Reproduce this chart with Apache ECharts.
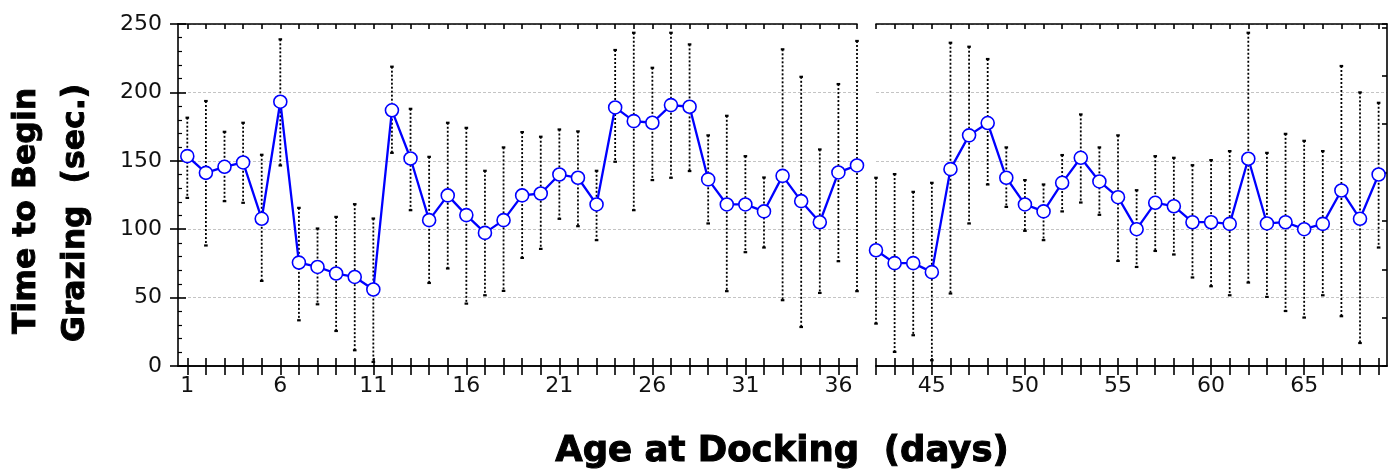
<!DOCTYPE html>
<html>
<head>
<meta charset="utf-8">
<script src="https://cdn.jsdelivr.net/npm/echarts@6/dist/echarts.min.js"></script>
<style>
html,body{margin:0;padding:0;background:#fff;}
#chart{width:1394px;height:471px;}
</style>
</head>
<body>
<div id="chart"></div>
<script>
// ---- Data ----
const leftDays = [1,2,3,4,5,6,7,8,9,10,11,12,13,14,15,16,17,18,19,20,21,22,23,24,25,26,27,28,29,30,31,32,33,34,35,36,37];
const leftMean = [153.4,141.2,145.6,148.8,107.6,193.2,75.6,72.4,67.6,65.1,55.9,186.9,151.7,106.6,124.7,110.3,97.3,106.6,124.7,126.1,140.0,137.6,118.1,189.0,179.0,177.8,190.7,189.5,136.4,118.1,118.1,113.0,139.0,120.5,105.1,141.5,146.6];
const leftHigh = [181.5,193.7,171.2,177.8,154.4,238.8,115.6,100.5,109.0,118.3,107.8,218.8,188.0,152.9,177.8,174.1,142.7,159.8,171.0,167.6,172.9,171.5,142.7,231.0,243.6,218.0,243.6,235.1,168.6,182.9,153.4,137.8,231.5,211.4,158.3,206.1,237.6];
const leftLow  = [122.9,88.1,120.5,119.3,62.2,146.6,33.4,45.1,25.6,11.5,3.0,155.8,113.9,60.7,71.3,45.6,51.7,54.9,79.0,85.6,107.6,102.2,92.0,149.3,113.9,135.9,137.6,142.5,104.2,54.7,83.2,86.6,48.1,28.5,53.4,76.6,54.7];

const rightDays = [42,43,44,45,46,47,48,49,50,51,52,53,54,55,56,57,58,59,60,61,62,63,64,65,66,67,68,69];
const rightMean = [84.6,75.2,75.2,68.6,143.9,168.6,177.6,137.6,118.1,113.0,133.9,152.2,134.9,123.4,100.0,119.3,116.8,105.1,105.1,103.9,151.5,104.2,105.1,100.0,103.9,128.3,107.6,140.0];
const rightHigh = [137.6,140.3,127.3,133.9,236.3,233.4,224.4,159.8,135.9,132.7,154.2,183.9,159.8,168.6,128.5,153.4,152.2,146.8,150.5,157.1,243.6,155.8,169.7,164.6,157.1,219.3,200.0,192.4];
const rightLow  = [31.0,10.3,22.5,4.2,53.0,104.2,132.7,116.3,98.8,92.0,113.0,119.5,110.5,76.8,72.4,84.1,81.5,64.7,58.3,51.7,61.0,50.5,40.2,35.4,51.7,36.4,16.8,86.6];

const leftTickLabels = [1,6,11,16,21,26,31,36];
const rightTickLabels = [45,50,55,60,65];
const yTitleLine1 = 'Time to Begin';
const yTitleLine2 = 'Grazing  (sec.)';
const xTitle = 'Age at Docking  (days)';

// ---- Build ----
const chart = echarts.init(document.getElementById('chart'), null, {renderer:'canvas'});
const tickFont = '"DejaVu Sans", "Liberation Sans", sans-serif';
const titleFont = '"DejaVu Sans", sans-serif';
const black = '#000';

function zip3(a,b,c){ return a.map((v,i)=>[v,b[i],c[i]]); }
function zip2(a,b){ return a.map((v,i)=>[v,b[i]]); }

function errRender(params, api){
  const x = api.value(0), lo = api.value(1), hi = api.value(2);
  const pH = api.coord([x, hi]);
  const pL = api.coord([x, lo]);
  const cap = 1.8;
  return {type:'group', children:[
    {type:'line', shape:{x1:pH[0], y1:pH[1], x2:pL[0], y2:pL[1]},
     style:{stroke:black, lineWidth:1.8, lineDash:[2,2]}},
    {type:'line', shape:{x1:pH[0]-cap, y1:pH[1], x2:pH[0]+cap, y2:pH[1]},
     style:{stroke:black, lineWidth:2.2}},
    {type:'line', shape:{x1:pL[0]-cap, y1:pL[1], x2:pL[0]+cap, y2:pL[1]},
     style:{stroke:black, lineWidth:2.2}}
  ]};
}

const axisLineStyle = {color:black, width:1.6};
function xBottom(grid, min, max, ticks, labels){
  return {type:'value', gridIndex:grid, position:'bottom', min:min, max:max,
    axisLine:{show:true, onZero:false, lineStyle:axisLineStyle},
    axisTick:{show:true, inside:false, length:9, customValues:ticks, lineStyle:{color:black, width:1.6}},
    axisLabel:{show:true, customValues:labels, margin:9, fontFamily:tickFont, fontSize:22, color:'#111'},
    splitLine:{show:false}};
}
function xInside(grid, min, max, ticks, pos, len){
  return {type:'value', gridIndex:grid, position:pos, min:min, max:max,
    axisLine:{show:true, onZero:false, lineStyle:axisLineStyle},
    axisTick:{show:true, inside:true, length:len, customValues:ticks, lineStyle:{color:black, width:1.6}},
    axisLabel:{show:false}, splitLine:{show:false}};
}

const gridLine = {show:true, lineStyle:{color:'#c4c4c4', type:[3,2], width:1}};

const option = {
  animation:false,
  backgroundColor:'#fff',
  grid:[
    {left:178, right:537, top:24, bottom:105, containLabel:false},
    {left:876, right:7, top:24, bottom:105, containLabel:false}
  ],
  xAxis:[
    xBottom(0, 0.5, 37, leftDays, leftTickLabels),
    xInside(0, 0.5, 37, leftDays, 'bottom', 8),
    xInside(0, 0.5, 37, leftDays, 'top', 5),
    xBottom(1, 42, 69.45, rightDays, rightTickLabels),
    xInside(1, 42, 69.45, rightDays, 'bottom', 8),
    xInside(1, 42, 69.45, rightDays, 'top', 5)
  ],
  yAxis:[
    {type:'value', gridIndex:0, position:'left', min:0, max:250, interval:50,
     axisLine:{show:true, onZero:false, lineStyle:axisLineStyle},
     axisTick:{show:true, inside:false, length:8, lineStyle:{color:black, width:1.6}},
     axisLabel:{show:true, margin:16, fontFamily:tickFont, fontSize:22, color:'#111'},
     splitLine:gridLine},
    {type:'value', gridIndex:0, position:'left', min:0, max:250, interval:50,
     axisLine:{show:false},
     axisTick:{show:true, inside:true, length:8, lineStyle:{color:black, width:1.6}},
     minorTick:{show:true, splitNumber:5, length:4, lineStyle:{color:black, width:1.2}},
     axisLabel:{show:false}, splitLine:{show:false}},
    {type:'value', gridIndex:1, position:'left', min:0, max:250, interval:50,
     axisLine:{show:false}, axisTick:{show:false}, axisLabel:{show:false},
     splitLine:gridLine},
    {type:'value', gridIndex:1, position:'right', min:0, max:7.07, interval:1,
     axisLine:{show:true, onZero:false, lineStyle:axisLineStyle},
     axisTick:{show:true, inside:true, length:5, lineStyle:{color:black, width:1.6}},
     axisLabel:{show:false}, splitLine:{show:false}}
  ],
  series:[
    {type:'custom', xAxisIndex:0, yAxisIndex:0, renderItem:errRender,
     data:zip3(leftDays, leftLow, leftHigh), encode:{x:0, y:[1,2]}, z:2, silent:true},
    {type:'line', xAxisIndex:0, yAxisIndex:0, data:zip2(leftDays, leftMean),
     symbol:'circle', symbolSize:13, showAllSymbol:true, clip:false,
     lineStyle:{color:'#0000ff', width:2.3},
     itemStyle:{color:'#fff', borderColor:'#0000ff', borderWidth:1.6}, z:3},
    {type:'custom', xAxisIndex:3, yAxisIndex:2, renderItem:errRender,
     data:zip3(rightDays, rightLow, rightHigh), encode:{x:0, y:[1,2]}, z:2, silent:true},
    {type:'line', xAxisIndex:3, yAxisIndex:2, data:zip2(rightDays, rightMean),
     symbol:'circle', symbolSize:13, showAllSymbol:true, clip:false,
     lineStyle:{color:'#0000ff', width:2.3},
     itemStyle:{color:'#fff', borderColor:'#0000ff', borderWidth:1.6}, z:3}
  ],
  graphic:[
    {type:'text', x:27, y:211, rotation:Math.PI/2,
     style:{text:yTitleLine1, fontFamily:titleFont, fontWeight:'bold', fontSize:31.5, fill:'#000', stroke:'#000', lineWidth:0.9, align:'center', verticalAlign:'middle'}},
    {type:'text', x:76, y:213, rotation:Math.PI/2,
     style:{text:yTitleLine2, fontFamily:titleFont, fontWeight:'bold', fontSize:31.5, fill:'#000', stroke:'#000', lineWidth:0.9, align:'center', verticalAlign:'middle'}},
    {type:'text', x:782, y:452,
     style:{text:xTitle, fontFamily:titleFont, fontWeight:'bold', fontSize:35.5, fill:'#000', stroke:'#000', lineWidth:1.0, align:'center', verticalAlign:'middle'}}
  ]
};
chart.setOption(option);
</script>
</body>
</html>
